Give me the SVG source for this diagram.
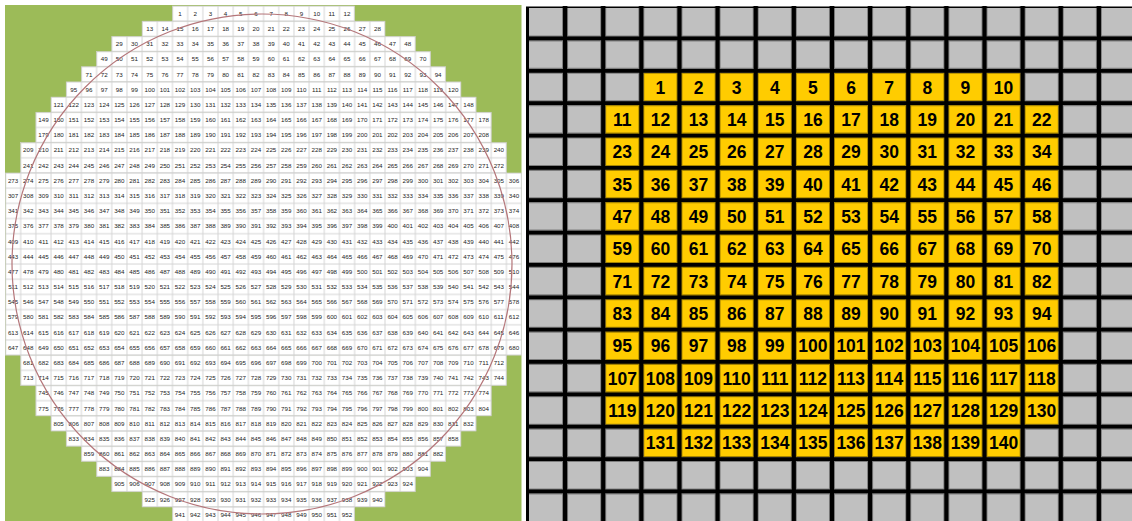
<svg xmlns="http://www.w3.org/2000/svg" width="1132" height="521" viewBox="0 0 1132 521">
<style>
.lt{font-family:"Liberation Sans",Arial,sans-serif;font-size:4.1px;fill:#222;text-anchor:middle}
.rt{font-family:"Liberation Sans",Arial,sans-serif;font-size:17.5px;font-weight:bold;fill:#000;text-anchor:middle}
.row{fill:url(#cp);stroke:#d0d0d0;stroke-width:0.4}
</style>
<defs>
<pattern id="cp" patternUnits="userSpaceOnUse" width="10" height="10"><rect width="10" height="10" fill="#d2d2d2"/><rect x="0.3" y="0.3" width="9.4" height="9.4" fill="#fff"/></pattern>
</defs>
<rect width="1132" height="521" fill="#fff"/>
<g id="wafer-map">
<rect x="5" y="5" width="516.5" height="516" fill="#9cbb58"/>
<g transform="translate(5.5,6) scale(1.518)">
<g id="cells">
<rect class="row" x="110" y="0" width="120" height="10"/>
<rect class="row" x="90" y="10" width="160" height="10"/>
<rect class="row" x="70" y="20" width="200" height="10"/>
<rect class="row" x="60" y="30" width="220" height="10"/>
<rect class="row" x="50" y="40" width="240" height="10"/>
<rect class="row" x="40" y="50" width="260" height="10"/>
<rect class="row" x="30" y="60" width="280" height="10"/>
<rect class="row" x="20" y="70" width="300" height="20"/>
<rect class="row" x="10" y="90" width="320" height="20"/>
<rect class="row" x="0" y="110" width="340" height="120"/>
<rect class="row" x="10" y="230" width="320" height="20"/>
<rect class="row" x="20" y="250" width="300" height="20"/>
<rect class="row" x="30" y="270" width="280" height="10"/>
<rect class="row" x="40" y="280" width="260" height="10"/>
<rect class="row" x="50" y="290" width="240" height="10"/>
<rect class="row" x="60" y="300" width="220" height="10"/>
<rect class="row" x="70" y="310" width="200" height="10"/>
<rect class="row" x="90" y="320" width="160" height="10"/>
<rect class="row" x="110" y="330" width="120" height="10"/>
</g>
<g id="cell-labels" class="lt">
<g transform="translate(0,6.5)"><text x="115">1</text><text x="125">2</text><text x="135">3</text><text x="145">4</text><text x="155">5</text><text x="165">6</text><text x="175">7</text><text x="185">8</text><text x="195">9</text><text x="205">10</text><text x="215">11</text><text x="225">12</text></g>
<g transform="translate(0,16.5)"><text x="95">13</text><text x="105">14</text><text x="115">15</text><text x="125">16</text><text x="135">17</text><text x="145">18</text><text x="155">19</text><text x="165">20</text><text x="175">21</text><text x="185">22</text><text x="195">23</text><text x="205">24</text><text x="215">25</text><text x="225">26</text><text x="235">27</text><text x="245">28</text></g>
<g transform="translate(0,26.5)"><text x="75">29</text><text x="85">30</text><text x="95">31</text><text x="105">32</text><text x="115">33</text><text x="125">34</text><text x="135">35</text><text x="145">36</text><text x="155">37</text><text x="165">38</text><text x="175">39</text><text x="185">40</text><text x="195">41</text><text x="205">42</text><text x="215">43</text><text x="225">44</text><text x="235">45</text><text x="245">46</text><text x="255">47</text><text x="265">48</text></g>
<g transform="translate(0,36.5)"><text x="65">49</text><text x="75">50</text><text x="85">51</text><text x="95">52</text><text x="105">53</text><text x="115">54</text><text x="125">55</text><text x="135">56</text><text x="145">57</text><text x="155">58</text><text x="165">59</text><text x="175">60</text><text x="185">61</text><text x="195">62</text><text x="205">63</text><text x="215">64</text><text x="225">65</text><text x="235">66</text><text x="245">67</text><text x="255">68</text><text x="265">69</text><text x="275">70</text></g>
<g transform="translate(0,46.5)"><text x="55">71</text><text x="65">72</text><text x="75">73</text><text x="85">74</text><text x="95">75</text><text x="105">76</text><text x="115">77</text><text x="125">78</text><text x="135">79</text><text x="145">80</text><text x="155">81</text><text x="165">82</text><text x="175">83</text><text x="185">84</text><text x="195">85</text><text x="205">86</text><text x="215">87</text><text x="225">88</text><text x="235">89</text><text x="245">90</text><text x="255">91</text><text x="265">92</text><text x="275">93</text><text x="285">94</text></g>
<g transform="translate(0,56.5)"><text x="45">95</text><text x="55">96</text><text x="65">97</text><text x="75">98</text><text x="85">99</text><text x="95">100</text><text x="105">101</text><text x="115">102</text><text x="125">103</text><text x="135">104</text><text x="145">105</text><text x="155">106</text><text x="165">107</text><text x="175">108</text><text x="185">109</text><text x="195">110</text><text x="205">111</text><text x="215">112</text><text x="225">113</text><text x="235">114</text><text x="245">115</text><text x="255">116</text><text x="265">117</text><text x="275">118</text><text x="285">119</text><text x="295">120</text></g>
<g transform="translate(0,66.5)"><text x="35">121</text><text x="45">122</text><text x="55">123</text><text x="65">124</text><text x="75">125</text><text x="85">126</text><text x="95">127</text><text x="105">128</text><text x="115">129</text><text x="125">130</text><text x="135">131</text><text x="145">132</text><text x="155">133</text><text x="165">134</text><text x="175">135</text><text x="185">136</text><text x="195">137</text><text x="205">138</text><text x="215">139</text><text x="225">140</text><text x="235">141</text><text x="245">142</text><text x="255">143</text><text x="265">144</text><text x="275">145</text><text x="285">146</text><text x="295">147</text><text x="305">148</text></g>
<g transform="translate(0,76.5)"><text x="25">149</text><text x="35">150</text><text x="45">151</text><text x="55">152</text><text x="65">153</text><text x="75">154</text><text x="85">155</text><text x="95">156</text><text x="105">157</text><text x="115">158</text><text x="125">159</text><text x="135">160</text><text x="145">161</text><text x="155">162</text><text x="165">163</text><text x="175">164</text><text x="185">165</text><text x="195">166</text><text x="205">167</text><text x="215">168</text><text x="225">169</text><text x="235">170</text><text x="245">171</text><text x="255">172</text><text x="265">173</text><text x="275">174</text><text x="285">175</text><text x="295">176</text><text x="305">177</text><text x="315">178</text></g>
<g transform="translate(0,86.5)"><text x="25">179</text><text x="35">180</text><text x="45">181</text><text x="55">182</text><text x="65">183</text><text x="75">184</text><text x="85">185</text><text x="95">186</text><text x="105">187</text><text x="115">188</text><text x="125">189</text><text x="135">190</text><text x="145">191</text><text x="155">192</text><text x="165">193</text><text x="175">194</text><text x="185">195</text><text x="195">196</text><text x="205">197</text><text x="215">198</text><text x="225">199</text><text x="235">200</text><text x="245">201</text><text x="255">202</text><text x="265">203</text><text x="275">204</text><text x="285">205</text><text x="295">206</text><text x="305">207</text><text x="315">208</text></g>
<g transform="translate(0,96.5)"><text x="15">209</text><text x="25">210</text><text x="35">211</text><text x="45">212</text><text x="55">213</text><text x="65">214</text><text x="75">215</text><text x="85">216</text><text x="95">217</text><text x="105">218</text><text x="115">219</text><text x="125">220</text><text x="135">221</text><text x="145">222</text><text x="155">223</text><text x="165">224</text><text x="175">225</text><text x="185">226</text><text x="195">227</text><text x="205">228</text><text x="215">229</text><text x="225">230</text><text x="235">231</text><text x="245">232</text><text x="255">233</text><text x="265">234</text><text x="275">235</text><text x="285">236</text><text x="295">237</text><text x="305">238</text><text x="315">239</text><text x="325">240</text></g>
<g transform="translate(0,106.5)"><text x="15">241</text><text x="25">242</text><text x="35">243</text><text x="45">244</text><text x="55">245</text><text x="65">246</text><text x="75">247</text><text x="85">248</text><text x="95">249</text><text x="105">250</text><text x="115">251</text><text x="125">252</text><text x="135">253</text><text x="145">254</text><text x="155">255</text><text x="165">256</text><text x="175">257</text><text x="185">258</text><text x="195">259</text><text x="205">260</text><text x="215">261</text><text x="225">262</text><text x="235">263</text><text x="245">264</text><text x="255">265</text><text x="265">266</text><text x="275">267</text><text x="285">268</text><text x="295">269</text><text x="305">270</text><text x="315">271</text><text x="325">272</text></g>
<g transform="translate(0,116.5)"><text x="5">273</text><text x="15">274</text><text x="25">275</text><text x="35">276</text><text x="45">277</text><text x="55">278</text><text x="65">279</text><text x="75">280</text><text x="85">281</text><text x="95">282</text><text x="105">283</text><text x="115">284</text><text x="125">285</text><text x="135">286</text><text x="145">287</text><text x="155">288</text><text x="165">289</text><text x="175">290</text><text x="185">291</text><text x="195">292</text><text x="205">293</text><text x="215">294</text><text x="225">295</text><text x="235">296</text><text x="245">297</text><text x="255">298</text><text x="265">299</text><text x="275">300</text><text x="285">301</text><text x="295">302</text><text x="305">303</text><text x="315">304</text><text x="325">305</text><text x="335">306</text></g>
<g transform="translate(0,126.5)"><text x="5">307</text><text x="15">308</text><text x="25">309</text><text x="35">310</text><text x="45">311</text><text x="55">312</text><text x="65">313</text><text x="75">314</text><text x="85">315</text><text x="95">316</text><text x="105">317</text><text x="115">318</text><text x="125">319</text><text x="135">320</text><text x="145">321</text><text x="155">322</text><text x="165">323</text><text x="175">324</text><text x="185">325</text><text x="195">326</text><text x="205">327</text><text x="215">328</text><text x="225">329</text><text x="235">330</text><text x="245">331</text><text x="255">332</text><text x="265">333</text><text x="275">334</text><text x="285">335</text><text x="295">336</text><text x="305">337</text><text x="315">338</text><text x="325">339</text><text x="335">340</text></g>
<g transform="translate(0,136.5)"><text x="5">341</text><text x="15">342</text><text x="25">343</text><text x="35">344</text><text x="45">345</text><text x="55">346</text><text x="65">347</text><text x="75">348</text><text x="85">349</text><text x="95">350</text><text x="105">351</text><text x="115">352</text><text x="125">353</text><text x="135">354</text><text x="145">355</text><text x="155">356</text><text x="165">357</text><text x="175">358</text><text x="185">359</text><text x="195">360</text><text x="205">361</text><text x="215">362</text><text x="225">363</text><text x="235">364</text><text x="245">365</text><text x="255">366</text><text x="265">367</text><text x="275">368</text><text x="285">369</text><text x="295">370</text><text x="305">371</text><text x="315">372</text><text x="325">373</text><text x="335">374</text></g>
<g transform="translate(0,146.5)"><text x="5">375</text><text x="15">376</text><text x="25">377</text><text x="35">378</text><text x="45">379</text><text x="55">380</text><text x="65">381</text><text x="75">382</text><text x="85">383</text><text x="95">384</text><text x="105">385</text><text x="115">386</text><text x="125">387</text><text x="135">388</text><text x="145">389</text><text x="155">390</text><text x="165">391</text><text x="175">392</text><text x="185">393</text><text x="195">394</text><text x="205">395</text><text x="215">396</text><text x="225">397</text><text x="235">398</text><text x="245">399</text><text x="255">400</text><text x="265">401</text><text x="275">402</text><text x="285">403</text><text x="295">404</text><text x="305">405</text><text x="315">406</text><text x="325">407</text><text x="335">408</text></g>
<g transform="translate(0,156.5)"><text x="5">409</text><text x="15">410</text><text x="25">411</text><text x="35">412</text><text x="45">413</text><text x="55">414</text><text x="65">415</text><text x="75">416</text><text x="85">417</text><text x="95">418</text><text x="105">419</text><text x="115">420</text><text x="125">421</text><text x="135">422</text><text x="145">423</text><text x="155">424</text><text x="165">425</text><text x="175">426</text><text x="185">427</text><text x="195">428</text><text x="205">429</text><text x="215">430</text><text x="225">431</text><text x="235">432</text><text x="245">433</text><text x="255">434</text><text x="265">435</text><text x="275">436</text><text x="285">437</text><text x="295">438</text><text x="305">439</text><text x="315">440</text><text x="325">441</text><text x="335">442</text></g>
<g transform="translate(0,166.5)"><text x="5">443</text><text x="15">444</text><text x="25">445</text><text x="35">446</text><text x="45">447</text><text x="55">448</text><text x="65">449</text><text x="75">450</text><text x="85">451</text><text x="95">452</text><text x="105">453</text><text x="115">454</text><text x="125">455</text><text x="135">456</text><text x="145">457</text><text x="155">458</text><text x="165">459</text><text x="175">460</text><text x="185">461</text><text x="195">462</text><text x="205">463</text><text x="215">464</text><text x="225">465</text><text x="235">466</text><text x="245">467</text><text x="255">468</text><text x="265">469</text><text x="275">470</text><text x="285">471</text><text x="295">472</text><text x="305">473</text><text x="315">474</text><text x="325">475</text><text x="335">476</text></g>
<g transform="translate(0,176.5)"><text x="5">477</text><text x="15">478</text><text x="25">479</text><text x="35">480</text><text x="45">481</text><text x="55">482</text><text x="65">483</text><text x="75">484</text><text x="85">485</text><text x="95">486</text><text x="105">487</text><text x="115">488</text><text x="125">489</text><text x="135">490</text><text x="145">491</text><text x="155">492</text><text x="165">493</text><text x="175">494</text><text x="185">495</text><text x="195">496</text><text x="205">497</text><text x="215">498</text><text x="225">499</text><text x="235">500</text><text x="245">501</text><text x="255">502</text><text x="265">503</text><text x="275">504</text><text x="285">505</text><text x="295">506</text><text x="305">507</text><text x="315">508</text><text x="325">509</text><text x="335">510</text></g>
<g transform="translate(0,186.5)"><text x="5">511</text><text x="15">512</text><text x="25">513</text><text x="35">514</text><text x="45">515</text><text x="55">516</text><text x="65">517</text><text x="75">518</text><text x="85">519</text><text x="95">520</text><text x="105">521</text><text x="115">522</text><text x="125">523</text><text x="135">524</text><text x="145">525</text><text x="155">526</text><text x="165">527</text><text x="175">528</text><text x="185">529</text><text x="195">530</text><text x="205">531</text><text x="215">532</text><text x="225">533</text><text x="235">534</text><text x="245">535</text><text x="255">536</text><text x="265">537</text><text x="275">538</text><text x="285">539</text><text x="295">540</text><text x="305">541</text><text x="315">542</text><text x="325">543</text><text x="335">544</text></g>
<g transform="translate(0,196.5)"><text x="5">545</text><text x="15">546</text><text x="25">547</text><text x="35">548</text><text x="45">549</text><text x="55">550</text><text x="65">551</text><text x="75">552</text><text x="85">553</text><text x="95">554</text><text x="105">555</text><text x="115">556</text><text x="125">557</text><text x="135">558</text><text x="145">559</text><text x="155">560</text><text x="165">561</text><text x="175">562</text><text x="185">563</text><text x="195">564</text><text x="205">565</text><text x="215">566</text><text x="225">567</text><text x="235">568</text><text x="245">569</text><text x="255">570</text><text x="265">571</text><text x="275">572</text><text x="285">573</text><text x="295">574</text><text x="305">575</text><text x="315">576</text><text x="325">577</text><text x="335">578</text></g>
<g transform="translate(0,206.5)"><text x="5">579</text><text x="15">580</text><text x="25">581</text><text x="35">582</text><text x="45">583</text><text x="55">584</text><text x="65">585</text><text x="75">586</text><text x="85">587</text><text x="95">588</text><text x="105">589</text><text x="115">590</text><text x="125">591</text><text x="135">592</text><text x="145">593</text><text x="155">594</text><text x="165">595</text><text x="175">596</text><text x="185">597</text><text x="195">598</text><text x="205">599</text><text x="215">600</text><text x="225">601</text><text x="235">602</text><text x="245">603</text><text x="255">604</text><text x="265">605</text><text x="275">606</text><text x="285">607</text><text x="295">608</text><text x="305">609</text><text x="315">610</text><text x="325">611</text><text x="335">612</text></g>
<g transform="translate(0,216.5)"><text x="5">613</text><text x="15">614</text><text x="25">615</text><text x="35">616</text><text x="45">617</text><text x="55">618</text><text x="65">619</text><text x="75">620</text><text x="85">621</text><text x="95">622</text><text x="105">623</text><text x="115">624</text><text x="125">625</text><text x="135">626</text><text x="145">627</text><text x="155">628</text><text x="165">629</text><text x="175">630</text><text x="185">631</text><text x="195">632</text><text x="205">633</text><text x="215">634</text><text x="225">635</text><text x="235">636</text><text x="245">637</text><text x="255">638</text><text x="265">639</text><text x="275">640</text><text x="285">641</text><text x="295">642</text><text x="305">643</text><text x="315">644</text><text x="325">645</text><text x="335">646</text></g>
<g transform="translate(0,226.5)"><text x="5">647</text><text x="15">648</text><text x="25">649</text><text x="35">650</text><text x="45">651</text><text x="55">652</text><text x="65">653</text><text x="75">654</text><text x="85">655</text><text x="95">656</text><text x="105">657</text><text x="115">658</text><text x="125">659</text><text x="135">660</text><text x="145">661</text><text x="155">662</text><text x="165">663</text><text x="175">664</text><text x="185">665</text><text x="195">666</text><text x="205">667</text><text x="215">668</text><text x="225">669</text><text x="235">670</text><text x="245">671</text><text x="255">672</text><text x="265">673</text><text x="275">674</text><text x="285">675</text><text x="295">676</text><text x="305">677</text><text x="315">678</text><text x="325">679</text><text x="335">680</text></g>
<g transform="translate(0,236.5)"><text x="15">681</text><text x="25">682</text><text x="35">683</text><text x="45">684</text><text x="55">685</text><text x="65">686</text><text x="75">687</text><text x="85">688</text><text x="95">689</text><text x="105">690</text><text x="115">691</text><text x="125">692</text><text x="135">693</text><text x="145">694</text><text x="155">695</text><text x="165">696</text><text x="175">697</text><text x="185">698</text><text x="195">699</text><text x="205">700</text><text x="215">701</text><text x="225">702</text><text x="235">703</text><text x="245">704</text><text x="255">705</text><text x="265">706</text><text x="275">707</text><text x="285">708</text><text x="295">709</text><text x="305">710</text><text x="315">711</text><text x="325">712</text></g>
<g transform="translate(0,246.5)"><text x="15">713</text><text x="25">714</text><text x="35">715</text><text x="45">716</text><text x="55">717</text><text x="65">718</text><text x="75">719</text><text x="85">720</text><text x="95">721</text><text x="105">722</text><text x="115">723</text><text x="125">724</text><text x="135">725</text><text x="145">726</text><text x="155">727</text><text x="165">728</text><text x="175">729</text><text x="185">730</text><text x="195">731</text><text x="205">732</text><text x="215">733</text><text x="225">734</text><text x="235">735</text><text x="245">736</text><text x="255">737</text><text x="265">738</text><text x="275">739</text><text x="285">740</text><text x="295">741</text><text x="305">742</text><text x="315">743</text><text x="325">744</text></g>
<g transform="translate(0,256.5)"><text x="25">745</text><text x="35">746</text><text x="45">747</text><text x="55">748</text><text x="65">749</text><text x="75">750</text><text x="85">751</text><text x="95">752</text><text x="105">753</text><text x="115">754</text><text x="125">755</text><text x="135">756</text><text x="145">757</text><text x="155">758</text><text x="165">759</text><text x="175">760</text><text x="185">761</text><text x="195">762</text><text x="205">763</text><text x="215">764</text><text x="225">765</text><text x="235">766</text><text x="245">767</text><text x="255">768</text><text x="265">769</text><text x="275">770</text><text x="285">771</text><text x="295">772</text><text x="305">773</text><text x="315">774</text></g>
<g transform="translate(0,266.5)"><text x="25">775</text><text x="35">776</text><text x="45">777</text><text x="55">778</text><text x="65">779</text><text x="75">780</text><text x="85">781</text><text x="95">782</text><text x="105">783</text><text x="115">784</text><text x="125">785</text><text x="135">786</text><text x="145">787</text><text x="155">788</text><text x="165">789</text><text x="175">790</text><text x="185">791</text><text x="195">792</text><text x="205">793</text><text x="215">794</text><text x="225">795</text><text x="235">796</text><text x="245">797</text><text x="255">798</text><text x="265">799</text><text x="275">800</text><text x="285">801</text><text x="295">802</text><text x="305">803</text><text x="315">804</text></g>
<g transform="translate(0,276.5)"><text x="35">805</text><text x="45">806</text><text x="55">807</text><text x="65">808</text><text x="75">809</text><text x="85">810</text><text x="95">811</text><text x="105">812</text><text x="115">813</text><text x="125">814</text><text x="135">815</text><text x="145">816</text><text x="155">817</text><text x="165">818</text><text x="175">819</text><text x="185">820</text><text x="195">821</text><text x="205">822</text><text x="215">823</text><text x="225">824</text><text x="235">825</text><text x="245">826</text><text x="255">827</text><text x="265">828</text><text x="275">829</text><text x="285">830</text><text x="295">831</text><text x="305">832</text></g>
<g transform="translate(0,286.5)"><text x="45">833</text><text x="55">834</text><text x="65">835</text><text x="75">836</text><text x="85">837</text><text x="95">838</text><text x="105">839</text><text x="115">840</text><text x="125">841</text><text x="135">842</text><text x="145">843</text><text x="155">844</text><text x="165">845</text><text x="175">846</text><text x="185">847</text><text x="195">848</text><text x="205">849</text><text x="215">850</text><text x="225">851</text><text x="235">852</text><text x="245">853</text><text x="255">854</text><text x="265">855</text><text x="275">856</text><text x="285">857</text><text x="295">858</text></g>
<g transform="translate(0,296.5)"><text x="55">859</text><text x="65">860</text><text x="75">861</text><text x="85">862</text><text x="95">863</text><text x="105">864</text><text x="115">865</text><text x="125">866</text><text x="135">867</text><text x="145">868</text><text x="155">869</text><text x="165">870</text><text x="175">871</text><text x="185">872</text><text x="195">873</text><text x="205">874</text><text x="215">875</text><text x="225">876</text><text x="235">877</text><text x="245">878</text><text x="255">879</text><text x="265">880</text><text x="275">881</text><text x="285">882</text></g>
<g transform="translate(0,306.5)"><text x="65">883</text><text x="75">884</text><text x="85">885</text><text x="95">886</text><text x="105">887</text><text x="115">888</text><text x="125">889</text><text x="135">890</text><text x="145">891</text><text x="155">892</text><text x="165">893</text><text x="175">894</text><text x="185">895</text><text x="195">896</text><text x="205">897</text><text x="215">898</text><text x="225">899</text><text x="235">900</text><text x="245">901</text><text x="255">902</text><text x="265">903</text><text x="275">904</text></g>
<g transform="translate(0,316.5)"><text x="75">905</text><text x="85">906</text><text x="95">907</text><text x="105">908</text><text x="115">909</text><text x="125">910</text><text x="135">911</text><text x="145">912</text><text x="155">913</text><text x="165">914</text><text x="175">915</text><text x="185">916</text><text x="195">917</text><text x="205">918</text><text x="215">919</text><text x="225">920</text><text x="235">921</text><text x="245">922</text><text x="255">923</text><text x="265">924</text></g>
<g transform="translate(0,326.5)"><text x="95">925</text><text x="105">926</text><text x="115">927</text><text x="125">928</text><text x="135">929</text><text x="145">930</text><text x="155">931</text><text x="165">932</text><text x="175">933</text><text x="185">934</text><text x="195">935</text><text x="205">936</text><text x="215">937</text><text x="225">938</text><text x="235">939</text><text x="245">940</text></g>
<g transform="translate(0,336.5)"><text x="115">941</text><text x="125">942</text><text x="135">943</text><text x="145">944</text><text x="155">945</text><text x="165">946</text><text x="175">947</text><text x="185">948</text><text x="195">949</text><text x="205">950</text><text x="215">951</text><text x="225">952</text></g>
</g>
</g>
<circle id="wafer-edge" cx="262" cy="264" r="250" fill="none" stroke="#b5767a" stroke-width="1.2"/>
</g>
<g id="die-grid">
<rect x="526" y="6.5" width="606" height="514.5" fill="#000"/>
<rect x="529" y="8" width="603" height="513" fill="#c0c0c0"/>
<g id="yellow-cells" fill="#ffcc00">
<rect x="643.4" y="72.7" width="377.2" height="28.6"/>
<rect x="605.3" y="105.05" width="453.4" height="319.75"/>
<rect x="643.4" y="428.55" width="377.2" height="28.6"/>
</g>
<g id="grid-lines" fill="none">
<path stroke="#000" stroke-opacity="0.35" stroke-width="6" d="M565.07 6V521M603.2 6V521M641.33 6V521M679.46 6V521M717.59 6V521M755.72 6V521M793.85 6V521M831.98 6V521M870.11 6V521M908.24 6V521M946.37 6V521M984.5 6V521M1022.63 6V521M1060.76 6V521M1098.89 6V521M526 38.48H1132M526 70.83H1132M526 103.18H1132M526 135.53H1132M526 167.88H1132M526 200.23H1132M526 232.58H1132M526 264.93H1132M526 297.28H1132M526 329.63H1132M526 361.98H1132M526 394.33H1132M526 426.68H1132M526 459.03H1132M526 491.38H1132"/>
<path stroke="#000" stroke-width="4.1" d="M565.07 6V521M603.2 6V521M641.33 6V521M679.46 6V521M717.59 6V521M755.72 6V521M793.85 6V521M831.98 6V521M870.11 6V521M908.24 6V521M946.37 6V521M984.5 6V521M1022.63 6V521M1060.76 6V521M1098.89 6V521"/>
<path stroke="#000" stroke-width="3.75" d="M526 38.48H1132M526 70.83H1132M526 103.18H1132M526 135.53H1132M526 167.88H1132M526 200.23H1132M526 232.58H1132M526 264.93H1132M526 297.28H1132M526 329.63H1132M526 361.98H1132M526 394.33H1132M526 426.68H1132M526 459.03H1132M526 491.38H1132"/>
</g>
<g id="die-labels" class="rt">
<g transform="translate(0,93.6)"><text x="660.4">1</text><text x="698.5">2</text><text x="736.7">3</text><text x="774.8">4</text><text x="812.9">5</text><text x="851">6</text><text x="889.2">7</text><text x="927.3">8</text><text x="965.4">9</text><text x="1003.6">10</text></g>
<g transform="translate(0,125.95)"><text x="622.3">11</text><text x="660.4">12</text><text x="698.5">13</text><text x="736.7">14</text><text x="774.8">15</text><text x="812.9">16</text><text x="851">17</text><text x="889.2">18</text><text x="927.3">19</text><text x="965.4">20</text><text x="1003.6">21</text><text x="1041.7">22</text></g>
<g transform="translate(0,158.3)"><text x="622.3">23</text><text x="660.4">24</text><text x="698.5">25</text><text x="736.7">26</text><text x="774.8">27</text><text x="812.9">28</text><text x="851">29</text><text x="889.2">30</text><text x="927.3">31</text><text x="965.4">32</text><text x="1003.6">33</text><text x="1041.7">34</text></g>
<g transform="translate(0,190.65)"><text x="622.3">35</text><text x="660.4">36</text><text x="698.5">37</text><text x="736.7">38</text><text x="774.8">39</text><text x="812.9">40</text><text x="851">41</text><text x="889.2">42</text><text x="927.3">43</text><text x="965.4">44</text><text x="1003.6">45</text><text x="1041.7">46</text></g>
<g transform="translate(0,223)"><text x="622.3">47</text><text x="660.4">48</text><text x="698.5">49</text><text x="736.7">50</text><text x="774.8">51</text><text x="812.9">52</text><text x="851">53</text><text x="889.2">54</text><text x="927.3">55</text><text x="965.4">56</text><text x="1003.6">57</text><text x="1041.7">58</text></g>
<g transform="translate(0,255.35)"><text x="622.3">59</text><text x="660.4">60</text><text x="698.5">61</text><text x="736.7">62</text><text x="774.8">63</text><text x="812.9">64</text><text x="851">65</text><text x="889.2">66</text><text x="927.3">67</text><text x="965.4">68</text><text x="1003.6">69</text><text x="1041.7">70</text></g>
<g transform="translate(0,287.7)"><text x="622.3">71</text><text x="660.4">72</text><text x="698.5">73</text><text x="736.7">74</text><text x="774.8">75</text><text x="812.9">76</text><text x="851">77</text><text x="889.2">78</text><text x="927.3">79</text><text x="965.4">80</text><text x="1003.6">81</text><text x="1041.7">82</text></g>
<g transform="translate(0,320.05)"><text x="622.3">83</text><text x="660.4">84</text><text x="698.5">85</text><text x="736.7">86</text><text x="774.8">87</text><text x="812.9">88</text><text x="851">89</text><text x="889.2">90</text><text x="927.3">91</text><text x="965.4">92</text><text x="1003.6">93</text><text x="1041.7">94</text></g>
<g transform="translate(0,352.4)"><text x="622.3">95</text><text x="660.4">96</text><text x="698.5">97</text><text x="736.7">98</text><text x="774.8">99</text><text x="812.9">100</text><text x="851">101</text><text x="889.2">102</text><text x="927.3">103</text><text x="965.4">104</text><text x="1003.6">105</text><text x="1041.7">106</text></g>
<g transform="translate(0,384.75)"><text x="622.3">107</text><text x="660.4">108</text><text x="698.5">109</text><text x="736.7">110</text><text x="774.8">111</text><text x="812.9">112</text><text x="851">113</text><text x="889.2">114</text><text x="927.3">115</text><text x="965.4">116</text><text x="1003.6">117</text><text x="1041.7">118</text></g>
<g transform="translate(0,417.1)"><text x="622.3">119</text><text x="660.4">120</text><text x="698.5">121</text><text x="736.7">122</text><text x="774.8">123</text><text x="812.9">124</text><text x="851">125</text><text x="889.2">126</text><text x="927.3">127</text><text x="965.4">128</text><text x="1003.6">129</text><text x="1041.7">130</text></g>
<g transform="translate(0,449.45)"><text x="660.4">131</text><text x="698.5">132</text><text x="736.7">133</text><text x="774.8">134</text><text x="812.9">135</text><text x="851">136</text><text x="889.2">137</text><text x="927.3">138</text><text x="965.4">139</text><text x="1003.6">140</text></g>
</g>
</g>
</svg>
